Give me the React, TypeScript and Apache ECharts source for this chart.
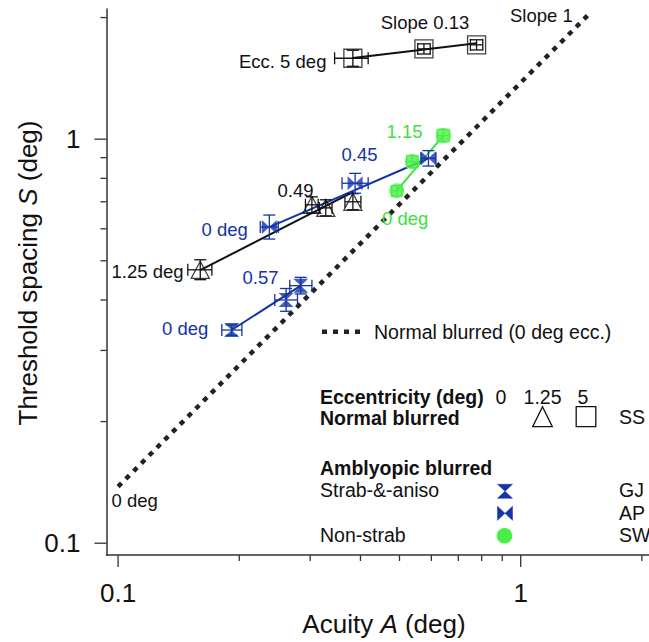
import { useEffect, useRef } from 'react';
import * as echarts from 'echarts';

const FONT = '"Liberation Sans", Arial, Helvetica, sans-serif';
const INK = '#111111';
const BLUE = '#1434a8';
const GREEN = '#47ef47';
const GREEN_LINE = '#40e040';

// Log axis extents (deg)
const A_RANGE = [0.0936, 2.083];
const S_RANGE = [0.0935, 2.1];

const majorTicks = [0.1, 1];
const minorTicks = [0.2, 0.3, 0.4, 0.5, 0.6, 0.7, 0.8, 0.9, 2];
const tickLabels = ['0.1', '1'];

// Normal blurred, 1.25 deg eccentricity (open triangles)
const triA = [0.16, 0.303, 0.328, 0.383];
const triS = [0.475, 0.688, 0.676, 0.7];
const triALo = [0.149, 0.292, 0.316, 0.366];
const triAHi = [0.171, 0.314, 0.34, 0.401];
const triSLo = [0.449, 0.657, 0.646, 0.669];
const triSHi = [0.503, 0.72, 0.708, 0.733];

// Normal blurred, 5 deg eccentricity (open squares)
const sqA = [0.383, 0.575, 0.777];
const sqS = [1.586, 1.673, 1.712];
const sqALo = [0.345, 0.555, 0.75];
const sqAHi = [0.418, 0.596, 0.805];
const sqSLo = [1.515, 1.625, 1.663];
const sqSHi = [1.66, 1.722, 1.762];

// Amblyopic blurred, strab-&-aniso GJ (hourglass)
const gjA = [0.1915, 0.2614, 0.2843];
const gjS = [0.337, 0.4, 0.434];
const gjALo = [0.181, 0.245, 0.267];
const gjAHi = [0.203, 0.279, 0.303];
const gjSLo = [0.327, 0.375, 0.414];
const gjSHi = [0.347, 0.427, 0.455];

// Amblyopic blurred, strab-&-aniso AP (bowtie)
const apA = [0.2375, 0.388, 0.59];
const apS = [0.606, 0.778, 0.897];
const apALo = [0.2255, 0.36, 0.565];
const apAHi = [0.25, 0.418, 0.616];
const apSLo = [0.566, 0.735, 0.858];
const apSHi = [0.649, 0.823, 0.937];

// Amblyopic blurred, non-strab SW (filled circles)
const swA = [0.492, 0.538, 0.6425];
const swS = [0.745, 0.88, 1.021];
const swALo = [0.478, 0.521, 0.62];
const swAHi = [0.507, 0.556, 0.666];
const swSLo = [0.724, 0.85, 0.985];
const swSHi = [0.767, 0.911, 1.058];

// Fitted lines (end points, A then S)
const triFitA = [0.16, 0.385];
const triFitS = [0.474, 0.742];
const sqFitA = [0.383, 0.777];
const sqFitS = [1.588, 1.728];
const gjFitA = [0.1915, 0.2843];
const gjFitS = [0.337, 0.434];
const apFitA = [0.2375, 0.59];
const apFitS = [0.606, 0.897];
const swFitA = [0.492, 0.6425];
const swFitS = [0.745, 1.021];
const normalFitA = [0.1, 1.5];
const normalFitS = [0.138, 2.07];

const HOURGLASS = 'path://M0,0L10,0L5,5ZM0,10L10,10L5,5Z';
const BOWTIE = 'path://M0,0L5,5L0,10ZM10,0L5,5L10,10Z';

const zip = (a: number[], s: number[]) => a.map((v, i) => [v, s[i]]);
const zipErr = (a: number[], s: number[], aLo: number[], aHi: number[], sLo: number[], sHi: number[]) =>
  a.map((v, i) => [v, s[i], aLo[i], aHi[i], sLo[i], sHi[i]]);

function errorBars(rows: number[][], color: string) {
  return {
    type: 'custom',
    clip: false,
    silent: true,
    z: 3,
    data: rows,
    encode: { x: 0, y: 1 },
    renderItem: (_p: any, api: any) => {
      const a = api.value(0);
      const s = api.value(1);
      const c = api.coord([a, s]);
      const l = api.coord([api.value(2), s]);
      const r = api.coord([api.value(3), s]);
      const b = api.coord([a, api.value(4)]);
      const t = api.coord([a, api.value(5)]);
      const cap = 6;
      const style = { stroke: color, lineWidth: 1.3, fill: 'none' };
      const seg = (x1: number, y1: number, x2: number, y2: number) => ({
        type: 'line',
        shape: { x1, y1, x2, y2 },
        style,
      });
      return {
        type: 'group',
        children: [
          seg(l[0], c[1], r[0], c[1]),
          seg(l[0], c[1] - cap, l[0], c[1] + cap),
          seg(r[0], c[1] - cap, r[0], c[1] + cap),
          seg(c[0], b[1], c[0], t[1]),
          seg(c[0] - cap, b[1], c[0] + cap, b[1]),
          seg(c[0] - cap, t[1], c[0] + cap, t[1]),
        ],
      };
    },
  };
}

function fitLine(a: number[], s: number[], color: string, width = 2) {
  return {
    type: 'line',
    data: zip(a, s),
    symbol: 'none',
    silent: true,
    z: 2,
    lineStyle: { color, width },
  };
}

function scatter(a: number[], s: number[], symbol: string, size: number | number[], itemStyle: any) {
  return {
    type: 'scatter',
    data: zip(a, s),
    symbol,
    symbolSize: size,
    silent: true,
    z: 4,
    itemStyle,
  };
}

const allTicks = [...majorTicks, ...minorTicks];

function tickSeries(dir: 'x' | 'y') {
  return {
    type: 'custom',
    clip: false,
    silent: true,
    z: 5,
    data: allTicks.map((v) => (dir === 'x' ? [v, S_RANGE[0]] : [A_RANGE[0], v])),
    encode: { x: 0, y: 1 },
    renderItem: (params: any, api: any) => {
      const i = params.dataIndex;
      const major = i < majorTicks.length;
      const p = api.coord([api.value(0), api.value(1)]);
      const len = major ? 12 : 6;
      const style = { stroke: '#333', lineWidth: 1.3 };
      const children: any[] = [];
      if (dir === 'x') {
        children.push({ type: 'line', shape: { x1: p[0], y1: p[1], x2: p[0], y2: p[1] + len }, style });
        if (major) {
          children.push({
            type: 'text',
            style: {
              text: tickLabels[i],
              x: p[0],
              y: p[1] + 38,
              align: 'center',
              verticalAlign: 'middle',
              fontSize: 26,
              fontFamily: FONT,
              fill: INK,
            },
          });
        }
      } else {
        children.push({ type: 'line', shape: { x1: p[0], y1: p[1], x2: p[0] - len, y2: p[1] }, style });
        if (major) {
          children.push({
            type: 'text',
            style: {
              text: tickLabels[i],
              x: p[0] - 26,
              y: p[1],
              align: 'right',
              verticalAlign: 'middle',
              fontSize: 26,
              fontFamily: FONT,
              fill: INK,
            },
          });
        }
      }
      return { type: 'group', children };
    },
  };
}

const txt = (text: string, x: number, y: number, fill = INK, size = 18.5, extra: any = {}) => ({
  type: 'text',
  x,
  y,
  z: 10,
  silent: true,
  style: {
    text,
    fill,
    fontSize: size,
    fontFamily: FONT,
    align: 'left',
    verticalAlign: 'middle',
    ...extra,
  },
});

export default function App() {
  const ref = useRef<HTMLDivElement>(null);

  useEffect(() => {
    document.body.style.margin = '0';
    const chart = echarts.init(ref.current!, undefined, { renderer: 'svg' });

    const legendSize = 19.5;
    const graphic: any[] = [
      // axis titles
      {
        type: 'text',
        x: 384,
        y: 624,
        silent: true,
        style: {
          text: '{n|Acuity }{i|A}{n| (deg)}',
          align: 'center',
          verticalAlign: 'middle',
          rich: {
            n: { fontSize: 26, fontFamily: FONT, fill: INK },
            i: { fontSize: 26, fontFamily: FONT, fontStyle: 'italic', fill: INK },
          },
        },
      },
      {
        type: 'text',
        x: 28,
        y: 273,
        rotation: Math.PI / 2,
        silent: true,
        style: {
          text: '{n|Threshold spacing }{i|S}{n| (deg)}',
          align: 'center',
          verticalAlign: 'middle',
          rich: {
            n: { fontSize: 26, fontFamily: FONT, fill: INK },
            i: { fontSize: 26, fontFamily: FONT, fontStyle: 'italic', fill: INK },
          },
        },
      },
      // annotations
      txt('Slope 0.13', 425, 22, INK, 18.5, { align: 'center' }),
      txt('Slope 1', 510, 15),
      txt('Ecc. 5 deg', 239, 61.5),
      txt('0.49', 277.5, 190),
      txt('0 deg', 201.5, 229.5, BLUE),
      txt('1.25 deg', 111.5, 271),
      txt('0.57', 242.5, 277, BLUE),
      txt('0 deg', 162, 328, BLUE),
      txt('0.45', 341.5, 154.5, BLUE),
      txt('1.15', 386.5, 131, GREEN_LINE),
      txt('0 deg', 382, 218, GREEN_LINE),
      txt('0 deg', 111.5, 500),
      // legend
      {
        type: 'line',
        silent: true,
        shape: { x1: 322, y1: 331.7, x2: 361, y2: 331.7 },
        style: { stroke: '#222', lineWidth: 4.5, lineDash: [5, 6], lineCap: 'butt' },
      },
      txt('Normal blurred (0 deg ecc.)', 374, 331.7, INK, legendSize),
      txt('Eccentricity (deg)', 320, 396.7, INK, legendSize, { fontWeight: 'bold' }),
      txt('0', 501, 396.7, INK, legendSize, { align: 'center' }),
      txt('1.25', 542.5, 396.7, INK, legendSize, { align: 'center' }),
      txt('5', 583, 396.7, INK, legendSize, { align: 'center' }),
      txt('Normal blurred', 320, 418, INK, legendSize, { fontWeight: 'bold' }),
      {
        type: 'polygon',
        silent: true,
        shape: { points: [[532.7, 426.7], [552.3, 426.7], [542.5, 406.7]] },
        style: { fill: 'none', stroke: INK, lineWidth: 1.3 },
      },
      {
        type: 'rect',
        silent: true,
        shape: { x: 576.2, y: 406.7, width: 19.6, height: 20 },
        style: { fill: 'none', stroke: INK, lineWidth: 1.3 },
      },
      txt('SS', 619, 416.5, INK, legendSize),
      txt('Amblyopic blurred', 320, 467.5, INK, legendSize, { fontWeight: 'bold' }),
      txt('Strab-&-aniso', 320, 489.5, INK, legendSize),
      {
        type: 'polygon',
        silent: true,
        shape: { points: [[497.5, 484.3], [512.5, 484.3], [505, 491.3], [512.5, 498.3], [497.5, 498.3], [505, 491.3]] },
        style: { fill: BLUE, stroke: BLUE, lineWidth: 0.5 },
      },
      txt('GJ', 619, 490, INK, legendSize),
      {
        type: 'polygon',
        silent: true,
        shape: { points: [[497.5, 506.3], [505, 513.3], [512.5, 506.3], [512.5, 520.3], [505, 513.3], [497.5, 520.3]] },
        style: { fill: BLUE, stroke: BLUE, lineWidth: 0.5 },
      },
      txt('AP', 619, 512.7, INK, legendSize),
      txt('Non-strab', 320, 535, INK, legendSize),
      {
        type: 'circle',
        silent: true,
        shape: { cx: 504.5, cy: 535.8, r: 7.8 },
        style: { fill: GREEN },
      },
      txt('SW', 619, 535, INK, legendSize),
    ];

    const openStyle = { color: 'rgba(0,0,0,0)', borderColor: INK, borderWidth: 1.3 };

    chart.setOption({
      animation: false,
      backgroundColor: '#ffffff',
      grid: { left: 106.5, top: 9, width: 542.5, height: 546, containLabel: false, outerBoundsMode: 'none' },
      xAxis: {
        type: 'log',
        min: A_RANGE[0],
        max: A_RANGE[1],
        logBase: 10,
        axisLine: { show: true, onZero: false, lineStyle: { color: '#333', width: 1.5 } },
        axisTick: { show: false },
        axisLabel: { show: false },
        splitLine: { show: false },
      },
      yAxis: {
        type: 'log',
        min: S_RANGE[0],
        max: S_RANGE[1],
        logBase: 10,
        axisLine: { show: true, onZero: false, lineStyle: { color: '#333', width: 1.5 } },
        axisTick: { show: false },
        axisLabel: { show: false },
        splitLine: { show: false },
      },
      series: [
        {
          type: 'line',
          data: zip(normalFitA, normalFitS),
          symbol: 'none',
          silent: true,
          z: 1,
          lineStyle: { color: '#222', width: 4.5, type: [5, 6], cap: 'butt' },
        },
        fitLine(triFitA, triFitS, INK),
        fitLine(sqFitA, sqFitS, INK),
        fitLine(gjFitA, gjFitS, BLUE),
        fitLine(apFitA, apFitS, BLUE),
        fitLine(swFitA, swFitS, GREEN_LINE),
        errorBars(zipErr(triA, triS, triALo, triAHi, triSLo, triSHi), INK),
        errorBars(zipErr(sqA, sqS, sqALo, sqAHi, sqSLo, sqSHi), INK),
        errorBars(zipErr(gjA, gjS, gjALo, gjAHi, gjSLo, gjSHi), BLUE),
        errorBars(zipErr(apA, apS, apALo, apAHi, apSLo, apSHi), BLUE),
        errorBars(zipErr(swA, swS, swALo, swAHi, swSLo, swSHi), GREEN),
        scatter(triA, triS, 'triangle', [18, 17], openStyle),
        scatter(sqA, sqS, 'rect', [18, 18], openStyle),
        scatter(gjA, gjS, HOURGLASS, [15, 14], { color: BLUE }),
        scatter(apA, apS, BOWTIE, [15, 14], { color: BLUE }),
        scatter(swA, swS, 'circle', 15, { color: GREEN }),
        tickSeries('x'),
        tickSeries('y'),
      ],
      graphic,
    });

    return () => chart.dispose();
  }, []);

  return (
    <div
      ref={ref}
      style={{ position: 'fixed', left: 0, top: 0, width: 649, height: 642, background: '#fff' }}
    />
  );
}
